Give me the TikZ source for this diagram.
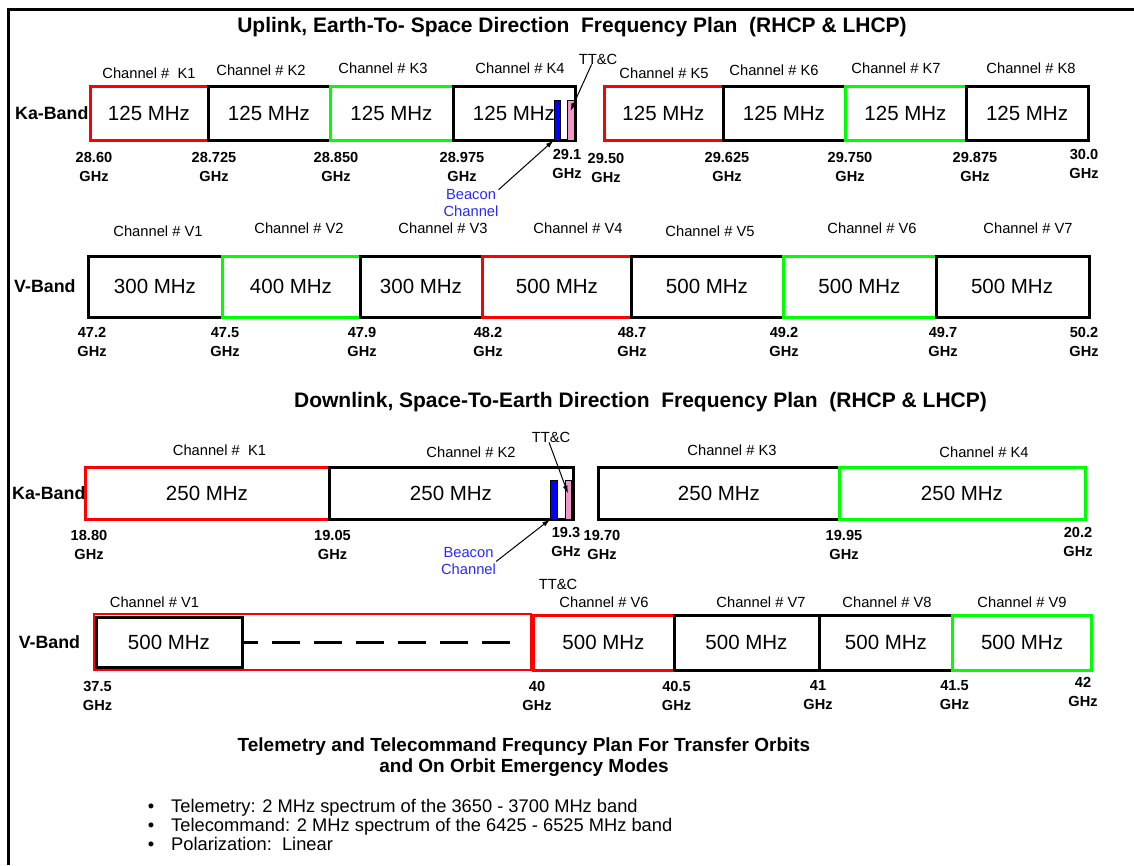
\documentclass[tikz,border=0pt]{standalone}
\usepackage{fontspec}
\setmainfont{Liberation Sans}
\usetikzlibrary{arrows.meta,calc}

\definecolor{rosso}{RGB}{255,0,0}
\definecolor{verde}{RGB}{0,255,0}
\definecolor{blu}{RGB}{0,0,255}
\definecolor{rosa}{RGB}{240,150,200}
\definecolor{blutesto}{RGB}{40,40,255}

\begin{document}
\begin{tikzpicture}[x=1pt, y=-1pt,
    bordo/.style={line width=3pt},
    mhz/.style={font=\fontsize{20.5}{24}\selectfont, inner sep=0pt},
    canale/.style={font=\fontsize{14.7}{17}\selectfont, inner sep=0pt},
    freq/.style={font=\bfseries\fontsize{14.6}{19}\selectfont, align=center, inner sep=0pt},
    banda/.style={font=\bfseries\fontsize{17.8}{20}\selectfont, inner sep=0pt, anchor=west},
    titolo/.style={font=\bfseries\fontsize{21}{25}\selectfont, inner sep=0pt},
    beacon/.style={font=\fontsize{14.7}{17}\selectfont, text=blutesto, align=center, inner sep=0pt},
    barra/.style={draw=black, line width=0.8pt, inner sep=0pt},
    freccia/.style={-{Latex[length=8pt,width=5pt]}, line width=1pt},
    elenco/.style={font=\fontsize{18.3}{21}\selectfont, inner sep=0pt, anchor=base west}
]
    \useasboundingbox (0,0) rectangle (1134,865);

    % Cornice
    \draw[line width=3pt] (8,865) -- (8,9.5) -- (1134,9.5);

    % --- Uplink, banda Ka ---
    \node[titolo] (tit_up) at (572,27) {Uplink, Earth-To- Space Direction\ \ Frequency Plan\ \ (RHCP \& LHCP)};
    \node[banda] (ka_up) at (15,113) {Ka-Band};

    \draw[bordo, rosso] (90,86) rectangle (208,140);
    \draw[bordo] (208,86) rectangle (330,140);
    \draw[bordo, verde] (330,86) rectangle (453,140);
    \draw[bordo] (453,86) rectangle (575,140);
    \draw[bordo, rosso] (604,86) rectangle (723,140);
    \draw[bordo] (723,86) rectangle (845,140);
    \draw[bordo, verde] (845,86) rectangle (966,140);
    \draw[bordo] (966,86) rectangle (1088,140);

    \node[mhz] (k1_up) at (149,113) {125 MHz};
    \node[mhz] (k2_up) at (269,113) {125 MHz};
    \node[mhz] (k3_up) at (391.5,113) {125 MHz};
    \node[mhz] (k4_up) at (514,113) {125 MHz};
    \node[mhz] (k5_up) at (663.5,113) {125 MHz};
    \node[mhz] (k6_up) at (784,113) {125 MHz};
    \node[mhz] (k7_up) at (905.5,113) {125 MHz};
    \node[mhz] (k8_up) at (1027,113) {125 MHz};

    \node[canale] (c1_up) at (149,73) {Channel \#\ \ K1};
    \node[canale] (c2_up) at (261,70.5) {Channel \# K2};
    \node[canale] (c3_up) at (383,68.5) {Channel \# K3};
    \node[canale] (c4_up) at (520,68.5) {Channel \# K4};
    \node[canale] (c5_up) at (664,73) {Channel \# K5};
    \node[canale] (c6_up) at (774,70) {Channel \# K6};
    \node[canale] (c7_up) at (896,68) {Channel \# K7};
    \node[canale] (c8_up) at (1031,68) {Channel \# K8};

    % Beacon e TT&C
    \node[barra, fill=blu, minimum width=6pt, minimum height=40pt] (blu_up) at (557,120) {};
    \node[barra, fill=rosa, minimum width=7pt, minimum height=40pt] (rosa_up) at (570.5,120) {};
    \node[canale] (ttc_up) at (598,59) {TT\&C};
    \node[beacon] (beacon_up) at (471,203.5) {Beacon\\Channel};
    \draw[freccia] (ttc_up.220) -- ($(rosa_up.north)!0.28!(rosa_up.south)$);
    \draw[freccia] (beacon_up.north east) -- (blu_up.south west);

    \node[freq] (f1_up) at (94,166.5) {28.60\\GHz};
    \node[freq] (f2_up) at (214,166.5) {28.725\\GHz};
    \node[freq] (f3_up) at (336,166.5) {28.850\\GHz};
    \node[freq] (f4_up) at (462,166.5) {28.975\\GHz};
    \node[freq] (f5_up) at (567,164) {29.1\\GHz};
    \node[freq] (f6_up) at (606,167.5) {29.50\\GHz};
    \node[freq] (f7_up) at (727,166.5) {29.625\\GHz};
    \node[freq] (f8_up) at (850,166.5) {29.750\\GHz};
    \node[freq] (f9_up) at (975,166.5) {29.875\\GHz};
    \node[freq] (f10_up) at (1084,163.5) {30.0\\GHz};

    % --- Uplink, banda V ---
    \node[banda] (v_up) at (14,286) {V-Band};

    \draw[bordo] (88.5,256) rectangle (222,317);
    \draw[bordo, verde] (222,256) rectangle (360,317);
    \draw[bordo] (360,256) rectangle (482.5,317);
    \draw[bordo, rosso] (482.5,256) rectangle (631,317);
    \draw[bordo] (631,256) rectangle (783,317);
    \draw[bordo, verde] (783,256) rectangle (936,317);
    \draw[bordo] (936,256) rectangle (1089,317);

    \node[mhz] (v1_up) at (155,286.5) {300 MHz};
    \node[mhz] (v2_up) at (291,286.5) {400 MHz};
    \node[mhz] (v3_up) at (421,286.5) {300 MHz};
    \node[mhz] (v4_up) at (557,286.5) {500 MHz};
    \node[mhz] (v5_up) at (707,286.5) {500 MHz};
    \node[mhz] (v6_up) at (859.5,286.5) {500 MHz};
    \node[mhz] (v7_up) at (1012,286.5) {500 MHz};

    \node[canale] (cv1_up) at (158,231) {Channel \# V1};
    \node[canale] (cv2_up) at (299,228) {Channel \# V2};
    \node[canale] (cv3_up) at (443,228) {Channel \# V3};
    \node[canale] (cv4_up) at (578,228) {Channel \# V4};
    \node[canale] (cv5_up) at (710,231) {Channel \# V5};
    \node[canale] (cv6_up) at (872,228) {Channel \# V6};
    \node[canale] (cv7_up) at (1028,228) {Channel \# V7};

    \node[freq] (fv1_up) at (92,342) {47.2\\GHz};
    \node[freq] (fv2_up) at (225,342) {47.5\\GHz};
    \node[freq] (fv3_up) at (362,342) {47.9\\GHz};
    \node[freq] (fv4_up) at (488,342) {48.2\\GHz};
    \node[freq] (fv5_up) at (632,342) {48.7\\GHz};
    \node[freq] (fv6_up) at (784,342) {49.2\\GHz};
    \node[freq] (fv7_up) at (943,342) {49.7\\GHz};
    \node[freq] (fv8_up) at (1084,342) {50.2\\GHz};

    % --- Downlink, banda Ka ---
    \node[titolo] (tit_down) at (640.5,402.5) {Downlink, Space-To-Earth Direction\ \ Frequency Plan\ \ (RHCP \& LHCP)};
    \node[banda] (ka_down) at (12,493) {Ka-Band};

    \draw[bordo, rosso] (85,467) rectangle (329,519);
    \draw[bordo] (329,467) rectangle (573,519);
    \draw[bordo] (598.5,467) rectangle (839,519);
    \draw[bordo, verde] (839,467) rectangle (1085,519);

    \node[mhz] (k1_down) at (207,493) {250 MHz};
    \node[mhz] (k2_down) at (451,493) {250 MHz};
    \node[mhz] (k3_down) at (719,493) {250 MHz};
    \node[mhz] (k4_down) at (962,493) {250 MHz};

    \node[canale] (c1_down) at (219.5,450) {Channel \#\ \ K1};
    \node[canale] (c2_down) at (471,452) {Channel \# K2};
    \node[canale] (c3_down) at (732,450) {Channel \# K3};
    \node[canale] (c4_down) at (984,452) {Channel \# K4};

    % Beacon e TT&C
    \node[barra, fill=blu, minimum width=7pt, minimum height=39pt] (blu_down) at (554,499.5) {};
    \node[barra, fill=rosa, minimum width=6pt, minimum height=39pt] (rosa_down) at (568,499.5) {};
    \node[canale] (ttc_down) at (551,437) {TT\&C};
    \node[beacon] (beacon_down) at (468.5,561.5) {Beacon\\Channel};
    \draw[freccia] (ttc_down.250) -- ($(rosa_down.north)!0.35!(rosa_down.south)$);
    \draw[freccia] (beacon_down.east) -- (blu_down.south west);

    \node[freq] (f1_down) at (89,544.5) {18.80\\GHz};
    \node[freq] (f2_down) at (332.5,544.5) {19.05\\GHz};
    \node[freq] (f3_down) at (566,541.5) {19.3\\GHz};
    \node[freq] (f4_down) at (602,544.5) {19.70\\GHz};
    \node[freq] (f5_down) at (844,544.5) {19.95\\GHz};
    \node[freq] (f6_down) at (1078,541.5) {20.2\\GHz};

    % --- Downlink, banda V ---
    \node[banda] (v_down) at (18.6,642) {V-Band};

    % Canali V1..V5 raggruppati
    \draw[line width=2pt, rosso] (93.5,614) rectangle (531,670);
    \draw[bordo] (96,617) rectangle (242,667);
    \draw[bordo, dash pattern=on 28pt off 14pt, dash phase=12pt] (242,642) -- (520,642);
    \draw[bordo, rosso] (533,615) rectangle (674,670);
    \draw[bordo] (674,615) rectangle (819,670);
    \draw[bordo] (819,615) rectangle (952.5,670);
    \draw[bordo, verde] (952.5,615) rectangle (1091,670);

    \node[mhz] (v1_down) at (169,642) {500 MHz};
    \node[mhz] (v6_down) at (603.5,642.5) {500 MHz};
    \node[mhz] (v7_down) at (746.5,642.5) {500 MHz};
    \node[mhz] (v8_down) at (886,642.5) {500 MHz};
    \node[mhz] (v9_down) at (1022,642.5) {500 MHz};

    \node[canale] (ttc_v) at (558,584) {TT\&C};
    \node[canale] (cv1_down) at (154.5,602) {Channel \# V1};
    \node[canale] (cv6_down) at (604,602) {Channel \# V6};
    \node[canale] (cv7_down) at (761,602) {Channel \# V7};
    \node[canale] (cv8_down) at (887,602) {Channel \# V8};
    \node[canale] (cv9_down) at (1022,602) {Channel \# V9};

    \node[freq] (fv1_down) at (97.5,695.5) {37.5\\GHz};
    \node[freq] (fv2_down) at (537,695.5) {40\\GHz};
    \node[freq] (fv3_down) at (676.5,695.5) {40.5\\GHz};
    \node[freq] (fv4_down) at (818,695.5) {41\\GHz};
    \node[freq] (fv5_down) at (954.5,695.5) {41.5\\GHz};
    \node[freq] (fv6_down) at (1083,691.5) {42\\GHz};

    % --- Telemetria e telecomando ---
    \node[font=\bfseries\fontsize{19}{21}\selectfont, align=center, inner sep=0pt] (tit_ttc) at (524,757)
        {Telemetry and Telecommand Frequncy Plan For Transfer Orbits\\and On Orbit Emergency Modes};

    \node[elenco, anchor=base] (p1) at (151,812) {•};
    \node[elenco] (e1) at (171,812) {Telemetry: 2 MHz spectrum of the 3650 - 3700 MHz band};
    \node[elenco, anchor=base] (p2) at (151,831) {•};
    \node[elenco] (e2) at (171,831) {Telecommand: 2 MHz spectrum of the 6425 - 6525 MHz band};
    \node[elenco, anchor=base] (p3) at (151,850) {•};
    \node[elenco] (e3) at (171,850) {Polarization:\ \ Linear};
\end{tikzpicture}
\end{document}
